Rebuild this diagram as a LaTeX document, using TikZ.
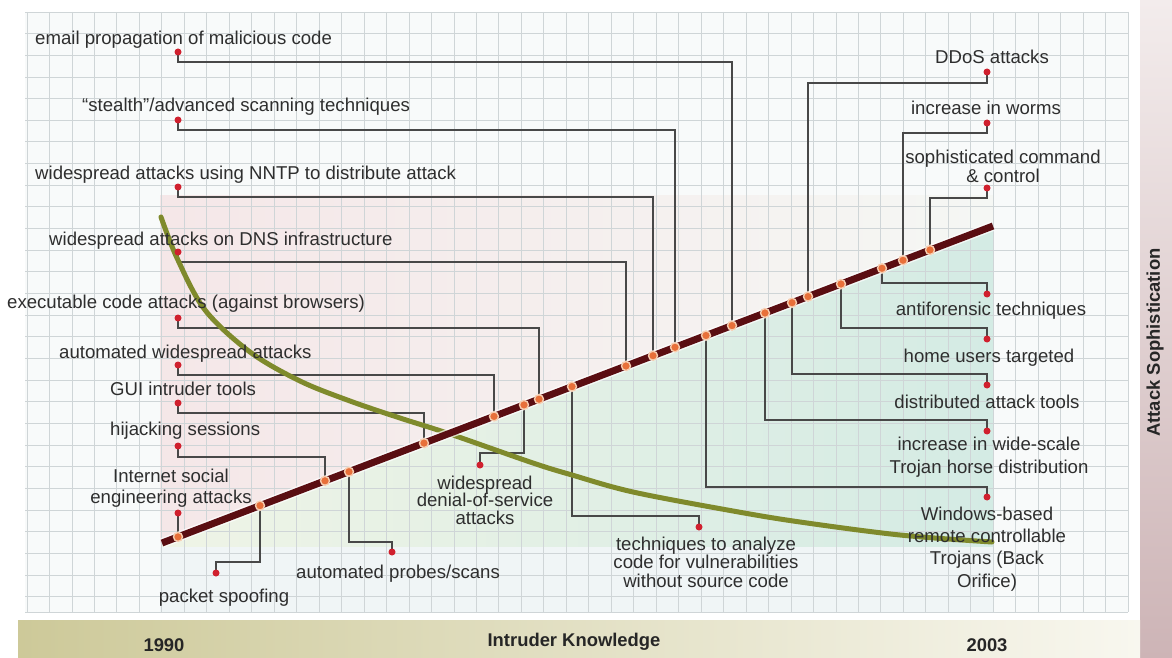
\documentclass[tikz,border=0pt]{standalone}
\usepackage{fontspec}
\setmainfont{Liberation Sans}
\usetikzlibrary{calc}
\definecolor{connGray}{HTML}{484848}
\definecolor{pinRed}{HTML}{D0202E}
\definecolor{dotOrange}{HTML}{E8703A}
\definecolor{dotRim}{HTML}{F6CDB0}
\definecolor{lineMaroon}{HTML}{5A0E12}
\definecolor{curveGreen}{HTML}{7F8A2C}
\definecolor{txtGray}{HTML}{2E2E2E}
\definecolor{gridCol}{HTML}{CFD5D7}
\definecolor{gridBg}{HTML}{F8FAFA}
\definecolor{pinkL}{HTML}{F5E7E8}
\definecolor{pinkR}{HTML}{F5F7F4}
\definecolor{tealL}{HTML}{EFF4E6}
\definecolor{tealR}{HTML}{D4EBE4}
\definecolor{lowBg}{HTML}{F0F5F6}
\definecolor{barL}{HTML}{CDC999}
\definecolor{barR}{HTML}{F8F7EF}
\definecolor{bandT}{HTML}{F3ECEC}
\definecolor{bandB}{HTML}{CDB4B6}
\begin{document}
\begin{tikzpicture}[x=1pt,y=-1pt,
  conn/.style={draw=connGray, line width=1.5pt},
  pin/.style={circle, fill=pinRed, inner sep=0pt, minimum size=7pt},
  ldot/.style={circle, fill=dotOrange, draw=dotRim, line width=1.4pt, inner sep=0pt, minimum size=9pt},
  lbl/.style={text=txtGray, inner sep=0pt, font=\fontsize{18.6}{21.5}\selectfont},
  barlbl/.style={text=black!85, inner sep=0pt, font=\fontsize{18.4}{22}\selectfont\bfseries},
  gridline/.style={draw=gridCol, line width=0.8pt}]
\useasboundingbox (0,0) rectangle (1172,658);
\fill[white] (0,0) rectangle (1172,658);
% right band and bottom bar
\shade[top color=bandT, bottom color=bandB] (1140,0) rectangle (1172,658);
\shade[left color=barL, right color=barR] (18,620) rectangle (1140,658);
% chart area
\fill[gridBg] (25,12) rectangle (1128,612);
\shade[left color=pinkL, right color=pinkR] (160,195) -- (993,195) -- (993,226) -- (162,543) -- (160,543) -- cycle;
\shade[left color=tealL, right color=tealR] (162,543) -- (993,226) -- (993,547) -- (162,547) -- cycle;
\fill[lowBg] (160,547) rectangle (993,612);
\foreach \i in {0,...,49} \draw[gridline] ({27+\i*22.47},12) -- ({27+\i*22.47},612);
\foreach \j in {0,...,27} \draw[gridline] (25,{12+\j*21.65}) -- (1128,{12+\j*21.65});
\draw[gridline] (25,612) -- (1128,612);
% the trend line end points and dots
\coordinate (A) at (162,543);
\coordinate (B) at (993,226);
\coordinate (l1) at (732,325.6);
\coordinate (l2) at (675,347.3);
\coordinate (l3) at (653,355.7);
\coordinate (l4) at (626,366.0);
\coordinate (l5) at (539,399.2);
\coordinate (l6) at (494,416.4);
\coordinate (l7) at (424,443.1);
\coordinate (l8) at (325,480.8);
\coordinate (l9) at (178,536.9);
\coordinate (l10) at (260,505.6);
\coordinate (l11) at (349,471.7);
\coordinate (l12) at (524,404.9);
\coordinate (l13) at (572,386.6);
\coordinate (l14) at (808,296.6);
\coordinate (l15) at (903,260.3);
\coordinate (l16) at (930,250.0);
\coordinate (l17) at (882,268.3);
\coordinate (l18) at (841,284.0);
\coordinate (l19) at (792,302.7);
\coordinate (l20) at (765,313.0);
\coordinate (l21) at (706,335.5);
% pins
\coordinate (p1) at (178,52);
\coordinate (p2) at (178,120);
\coordinate (p3) at (178,187);
\coordinate (p4) at (178,252);
\coordinate (p5) at (178,318);
\coordinate (p6) at (178,365);
\coordinate (p7) at (178,403);
\coordinate (p8) at (178,446);
\coordinate (p9) at (178,513);
\coordinate (p10) at (216,573);
\coordinate (p11) at (392,552);
\coordinate (p12) at (480,465);
\coordinate (p13) at (699,527);
\coordinate (p14) at (987,72);
\coordinate (p15) at (987,123);
\coordinate (p16) at (987,188);
\coordinate (p17) at (987,294);
\coordinate (p18) at (987,339);
\coordinate (p19) at (987,385);
\coordinate (p20) at (987,431);
\coordinate (p21) at (987,497);
% connectors
\draw[conn] (p1) -- ++(0,10) -| (l1);
\draw[conn] (p2) -- ++(0,10) -| (l2);
\draw[conn] (p3) -- ++(0,10) -| (l3);
\draw[conn] (p4) -- ++(0,10) -| (l4);
\draw[conn] (p5) -- ++(0,10) -| (l5);
\draw[conn] (p6) -- ++(0,10) -| (l6);
\draw[conn] (p7) -- ++(0,10) -| (l7);
\draw[conn] (p8) -- ++(0,11) -| (l8);
\draw[conn] (p9) -- (l9);
\draw[conn] (l10) |- ($(p10)+(0,-11)$) -- (p10);
\draw[conn] (l11) |- ($(p11)+(0,-10)$) -- (p11);
\draw[conn] (l12) |- ($(p12)+(0,-12)$) -- (p12);
\draw[conn] (l13) |- ($(p13)+(0,-11)$) -- (p13);
\draw[conn] (p14) -- ++(0,11) -| (l14);
\draw[conn] (p15) -- ++(0,10) -| (l15);
\draw[conn] (p16) -- ++(0,10) -| (l16);
\draw[conn] (l17) |- ($(p17)+(0,-11)$) -- (p17);
\draw[conn] (l18) |- ($(p18)+(0,-11)$) -- (p18);
\draw[conn] (l19) |- ($(p19)+(0,-11)$) -- (p19);
\draw[conn] (l20) |- ($(p20)+(0,-11)$) -- (p20);
\draw[conn] (l21) |- ($(p21)+(0,-10)$) -- (p21);
% intruder knowledge curve
\draw[curveGreen, line width=5pt, line cap=round] plot[smooth, tension=0.55] coordinates {(161,217) (177,258) (205,310) (250,352) (300,381) (350,401) (400,418) (450,434) (533,463) (572,475) (633,492) (733,511) (800,522) (900,535) (992,542)};
% attack sophistication line
\draw[white, opacity=0.7, line width=10pt] (A) -- (B);
\draw[lineMaroon, line width=7pt] (A) -- (B);
\foreach \k in {1,...,21} \node[ldot] (d\k) at (l\k) {};
\foreach \k in {1,...,21} \node[pin] (q\k) at (p\k) {};
% labels
\node[lbl, anchor=base west] (n1) at (35,45) {email propagation of malicious code};
\node[lbl, anchor=base west] (n2) at (82,112) {“stealth”/advanced scanning techniques};
\node[lbl, anchor=base west] (n3) at (35,179) {widespread attacks using NNTP to distribute attack};
\node[lbl, anchor=base west] (n4) at (49,245) {widespread attacks on DNS infrastructure};
\node[lbl, anchor=base west] (n5) at (7,308) {executable code attacks (against browsers)};
\node[lbl, anchor=base west] (n6) at (59,358) {automated widespread attacks};
\node[lbl, anchor=base west] (n7) at (110,395) {GUI intruder tools};
\node[lbl, anchor=base west] (n8) at (110,435) {hijacking sessions};
\node[lbl, align=center, font=\fontsize{18.6}{21}\selectfont] (n9) at (171,488) {Internet social\\engineering attacks};
\node[lbl, anchor=base] (n10) at (224,602) {packet spoofing};
\node[lbl, anchor=base west] (n11) at (296,578) {automated probes/scans};
\node[lbl, align=center, font=\fontsize{18.6}{17.5}\selectfont] (n12) at (485,500) {widespread\\denial-of-service\\attacks};
\node[lbl, align=center, font=\fontsize{18.6}{18.5}\selectfont] (n13) at (706,562) {techniques to analyze\\code for vulnerabilities\\without source code};
\node[lbl, anchor=base] (n14) at (992,64) {DDoS attacks};
\node[lbl, anchor=base] (n15) at (986,114) {increase in worms};
\node[lbl, align=center, font=\fontsize{18.6}{19}\selectfont] (n16) at (1003,166) {sophisticated command\\\& control};
\node[lbl, anchor=base] (n17) at (991,315) {antiforensic techniques};
\node[lbl, anchor=base] (n18) at (989,362) {home users targeted};
\node[lbl, anchor=base] (n19) at (987,408) {distributed attack tools};
\node[lbl, align=center, font=\fontsize{18.6}{23}\selectfont] (n20) at (989,457) {increase in wide-scale\\Trojan horse distribution};
\node[lbl, align=center, font=\fontsize{18.6}{22.3}\selectfont] (n21) at (987,549) {Windows-based\\remote controllable\\Trojans (Back\\Orifice)};
\node[barlbl, anchor=base] (y1) at (164,651) {1990};
\node[barlbl, anchor=base] (xk) at (574,646) {Intruder Knowledge};
\node[barlbl, anchor=base] (y2) at (987,651) {2003};
\node[barlbl, rotate=90] (ys) at (1155,342.5) {Attack Sophistication};
\end{tikzpicture}
\end{document}
